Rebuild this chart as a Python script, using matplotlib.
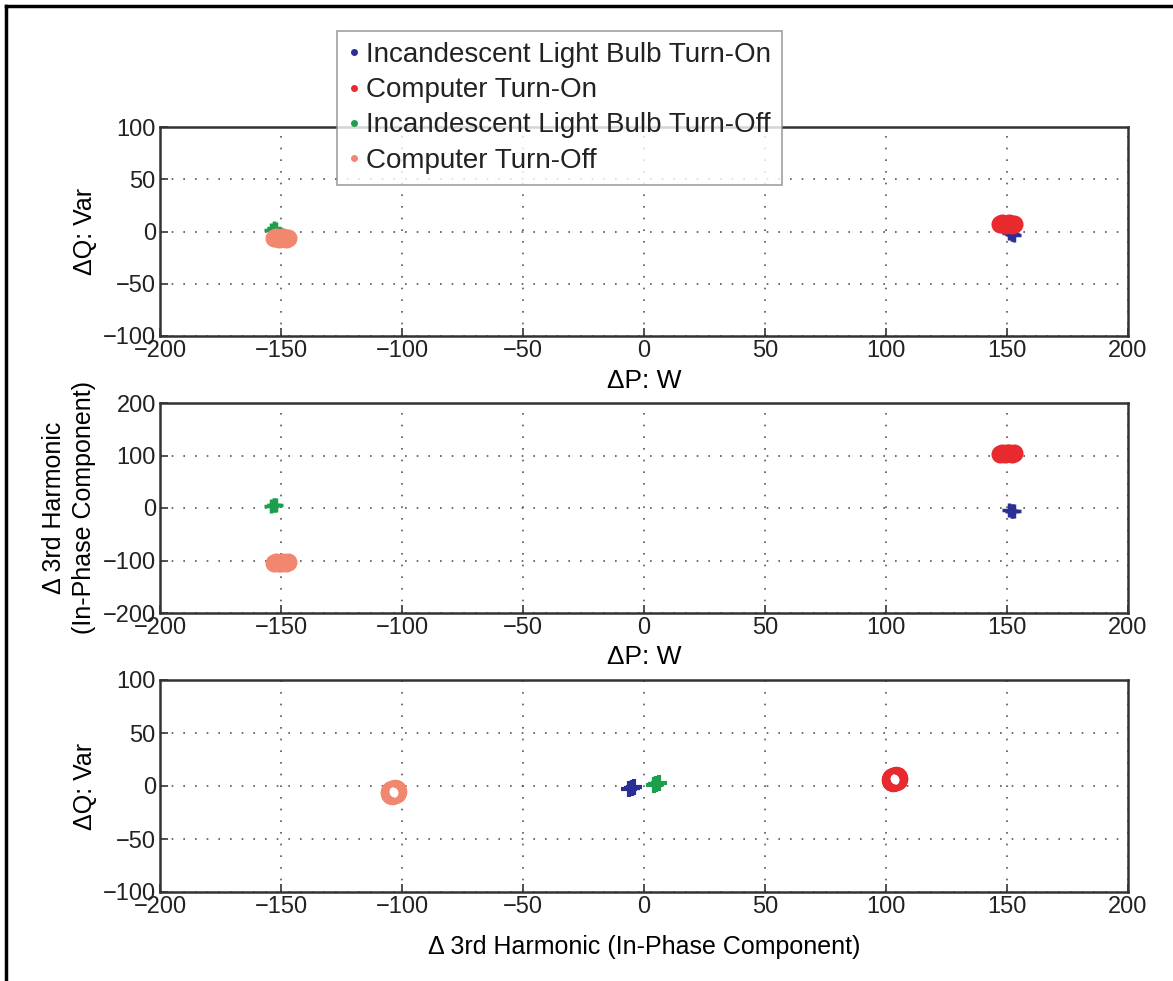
import numpy as np
import matplotlib
matplotlib.use("Agg")
import matplotlib.pyplot as plt
from matplotlib.lines import Line2D

plt.rcParams['font.family'] = ['Liberation Sans', 'DejaVu Sans']
plt.rcParams['text.color'] = '#222222'
plt.rcParams['xtick.labelcolor'] = '#222222'
plt.rcParams['ytick.labelcolor'] = '#222222'

# cluster points: (dP, dQ, d3rd)
bulb_on_P = [151, 152, 153, 152]
bulb_on_Q = [-1, -2, -3, -2]
bulb_on_H = [-4, -5, -6, -5]

comp_on_P = [147, 148, 149, 150, 151, 152, 153]
comp_on_Q = [7, 8, 6, 7, 8, 6, 7]
comp_on_H = [103, 104, 103, 104, 104, 103, 104]

bulb_off_P = [-152, -153, -154, -153]
bulb_off_Q = [2, 3, 1, 2]
bulb_off_H = [5, 6, 4, 5]

comp_off_P = [-147, -148, -149, -150, -151, -152, -153]
comp_off_Q = [-6, -7, -5, -6, -7, -5, -6]
comp_off_H = [-103, -104, -103, -104, -104, -103, -104]

c_bulb_on = '#2a2f95'
c_comp_on = '#e82a2e'
c_bulb_off = '#1c9f4c'
c_comp_off = '#f2876f'

labels = ['Incandescent Light Bulb Turn-On', 'Computer Turn-On',
          'Incandescent Light Bulb Turn-Off', 'Computer Turn-Off']

fig = plt.figure(figsize=(11.73, 9.81), dpi=100)
W, H = 1173, 981

def make_ax(top, bottom):
    return fig.add_axes([160 / W, 1 - bottom / H, 968 / W, (bottom - top) / H])

ax1 = make_ax(127, 336)
ax2 = make_ax(403, 613)
ax3 = make_ax(680, 892)

def style(ax, ylim, yticks):
    ax.set_xlim(-200, 200)
    ax.set_ylim(*ylim)
    ax.set_xticks(range(-200, 201, 50))
    ax.set_yticks(yticks)
    ax.tick_params(direction='in', labelsize=17, length=6, width=1.2, color='#333333', pad=3)
    ax.grid(True, linestyle=(0, (1, 6)), color='#555555', linewidth=1.2)
    for s in ax.spines.values():
        s.set_linewidth(1.8)
        s.set_color('#333333')

# top: dP vs dQ
ax1.plot(bulb_on_P, bulb_on_Q, '+', color=c_bulb_on, ms=10, mew=2.5)
ax1.plot(comp_on_P, comp_on_Q, 'o', color=c_comp_on, ms=12)
ax1.plot(bulb_off_P, bulb_off_Q, '+', color=c_bulb_off, ms=10, mew=2.5)
ax1.plot(comp_off_P, comp_off_Q, 'o', color=c_comp_off, ms=12)
style(ax1, (-100, 100), range(-100, 101, 50))
ax1.set_xlabel('\u0394P: W', fontsize=19, labelpad=5)
ax1.set_ylabel('\u0394Q: Var', fontsize=18, labelpad=4)

# middle: dP vs 3rd harmonic
ax2.plot(bulb_on_P, bulb_on_H, '+', color=c_bulb_on, ms=10, mew=2.5)
ax2.plot(comp_on_P, comp_on_H, 'o', color=c_comp_on, ms=12)
ax2.plot(bulb_off_P, bulb_off_H, '+', color=c_bulb_off, ms=10, mew=2.5)
ax2.plot(comp_off_P, comp_off_H, 'o', color=c_comp_off, ms=12)
style(ax2, (-200, 200), range(-200, 201, 100))
ax2.set_xlabel('\u0394P: W', fontsize=19, labelpad=4)
ax2.set_ylabel('\u0394 3rd Harmonic\n(In-Phase Component)', fontsize=18, labelpad=5,
               linespacing=1.3)

# bottom: 3rd harmonic vs dQ
ax3.plot(bulb_on_H, bulb_on_Q, '+', color=c_bulb_on, ms=11, mew=3)
ax3.plot(comp_on_H, comp_on_Q, 'o', mfc='none', mec=c_comp_on, ms=13, mew=3.8)
ax3.plot(bulb_off_H, bulb_off_Q, '+', color=c_bulb_off, ms=11, mew=3)
ax3.plot(comp_off_H, comp_off_Q, 'o', mfc='none', mec=c_comp_off, ms=13, mew=3.8)
style(ax3, (-100, 100), range(-100, 101, 50))
ax3.set_xlabel('\u0394 3rd Harmonic (In-Phase Component)', fontsize=18, labelpad=12)
ax3.set_ylabel('\u0394Q: Var', fontsize=18, labelpad=4)

handles = [Line2D([], [], ls='none', marker='.', color=c, ms=8)
           for c in [c_bulb_on, c_comp_on, c_bulb_off, c_comp_off]]
leg = fig.legend(handles, labels, loc='upper left', bbox_to_anchor=(337 / W, 1 - 31 / H),
                 fontsize=20, frameon=True, fancybox=False, handlelength=0.4,
                 handletextpad=0.25, labelspacing=0.33, borderpad=0.4, borderaxespad=0)
leg.get_frame().set_edgecolor('#888888')
leg.get_frame().set_linewidth(1.2)

# image border (top and left)
fig.add_artist(Line2D([6 / W, 6 / W], [0, 1 - 6 / H], color='black', lw=2.5))
fig.add_artist(Line2D([6 / W, 1], [1 - 6 / H, 1 - 6 / H], color='black', lw=2.5))

fig.savefig('out.png', dpi=100)
